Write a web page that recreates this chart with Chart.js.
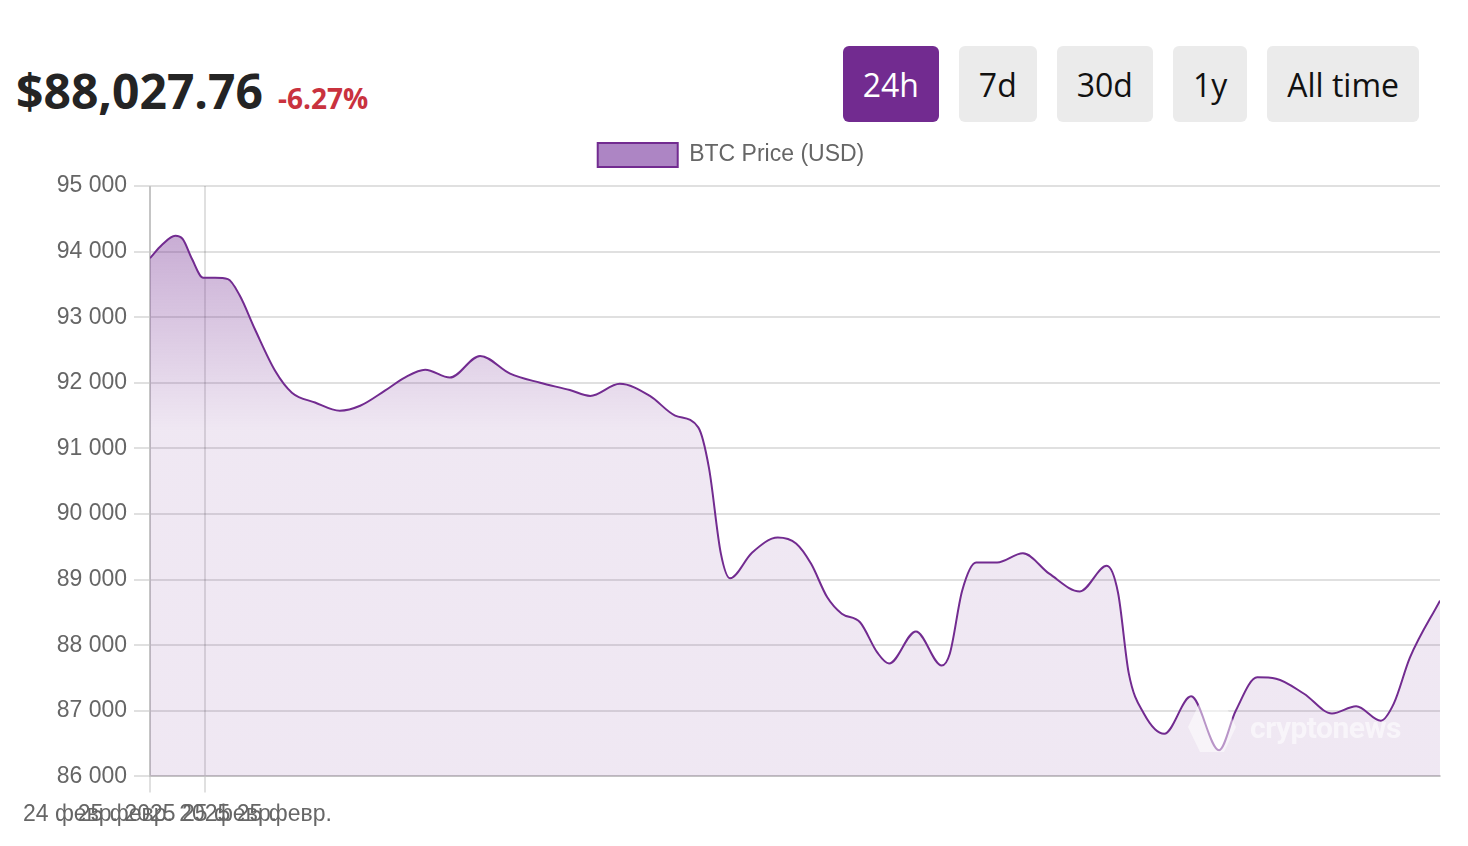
<!DOCTYPE html>
<html>
<head>
<meta charset="utf-8">
<script src="https://cdn.jsdelivr.net/npm/chart.js@4"></script>
<style>
  body { margin: 0; background: #fff; font-family: "Open Sans", sans-serif; }
  .price { position: absolute; left: 16px; top: 58px; font-weight: 700; font-size: 48px; color: #242424; }
  .change { font-size: 28px; color: #c9323e; margin-left: 15px; }
  .ranges { position: absolute; top: 46px; right: 49px; display: flex; gap: 20px; }
  .ranges button { border: 0; border-radius: 6px; background: #ebebeb; color: #111; font: 400 32px "Open Sans", sans-serif; height: 76px; padding: 0 20px; }
  .ranges button.active { background: #722b90; color: #fff; }
  #wrap { position: absolute; left: 0; top: 133px; width: 1468px; height: 713px; }
  .mark { position: absolute; left: 1186px; top: 700px; display: flex; align-items: center; gap: 12px; pointer-events: none; }
  .mark span { font: 700 30px Roboto, sans-serif; color: rgba(255,255,255,0.55); letter-spacing: -0.5px; }
</style>
</head>
<body>
<div class="price">$88,027.76<span class="change">-6.27%</span></div>
<div class="ranges">
  <button class="active">24h</button><button>7d</button><button>30d</button><button>1y</button><button>All time</button>
</div>
<div id="wrap"><canvas id="c"></canvas></div>
<div class="mark">
  <svg width="52" height="54" viewBox="0 0 52 54"><polygon points="14,2 38,2 50,27 38,52 14,52 2,27" fill="rgba(255,255,255,0.5)"/></svg>
  <span>cryptonews</span>
</div>
<script>
// hours since start of the 24h window
const hours = [0, 0.22, 0.47, 0.61, 0.78, 0.99, 1.21, 1.45, 1.67, 1.95, 2.33, 2.64, 3.07, 3.53, 3.91, 4.37,
  4.74, 5.12, 5.58, 6.14, 6.70, 7.26, 7.81, 8.19, 8.74, 9.30, 9.77, 10.20, 10.40, 10.62, 10.79, 11.20,
  11.68, 12.02, 12.30, 12.60, 12.87, 13.21, 13.53, 13.75, 14.25, 14.73, 14.88, 15.11, 15.37, 15.76, 16.24,
  16.73, 17.30, 17.80, 18.01, 18.21, 18.49, 18.87, 19.37, 19.89, 20.20, 20.60, 20.95, 21.47, 21.99, 22.44,
  22.90, 23.14, 23.44, 24.00];
const prices = [93900, 94100, 94240, 94190, 93890, 93600, 93600, 93580, 93330, 92820, 92180, 91850, 91700, 91575, 91650, 91880,
  92080, 92200, 92080, 92410, 92140, 92000, 91890, 91800, 91985, 91800, 91500, 91320, 90700, 89400, 89020, 89410,
  89640, 89550, 89240, 88730, 88480, 88350, 87890, 87720, 88210, 87690, 87870, 88830, 89260, 89260, 89400,
  89090, 88820, 89210, 88800, 87570, 86960, 86650, 87220, 86400, 87000, 87510, 87490, 87260, 86960, 87070,
  86850, 87110, 87810, 88680];
const tickHours = [0, 1.02];
const tickLabels = ['24 февр. 2025 25 февр.', '25 февр. 2025 25 февр.'];

const purple = '#722b90';
const font = { family: 'Liberation Sans, Arial, sans-serif', size: 23 };

function fillGradient(ctx) {
  const area = ctx.chart.chartArea;
  if (!area) return 'rgba(114,43,144,0.11)';
  const g = ctx.chart.ctx.createLinearGradient(0, area.top, 0, area.top + 245);
  g.addColorStop(0, 'rgba(114,43,144,0.46)');
  g.addColorStop(1, 'rgba(114,43,144,0.11)');
  return g;
}

// a bit more room between the legend and the plot
const legendGap = {
  id: 'legendGap',
  beforeInit(chart) {
    const fit = chart.legend.fit;
    chart.legend.fit = function () { fit.call(this); this.height += 9; };
  },
};

new Chart(document.getElementById('c'), {
  type: 'line',
  data: {
    datasets: [{
      label: 'BTC Price (USD)',
      data: hours.map((h, i) => ({ x: h, y: prices[i] })),
      borderColor: purple,
      borderWidth: 2,
      backgroundColor: fillGradient,
      fill: 'start',
      pointRadius: 0,
      cubicInterpolationMode: 'monotone',
    }],
  },
  options: {
    responsive: true,
    maintainAspectRatio: false,
    animation: false,
    layout: { padding: { left: 22, right: 28, bottom: 10 } },
    scales: {
      x: {
        type: 'linear',
        min: 0,
        max: 24,
        afterBuildTicks: axis => { axis.ticks = tickHours.map(v => ({ value: v })); },
        ticks: { callback: (v, i) => tickLabels[i], font, color: '#666', maxRotation: 0, padding: 8, autoSkip: false },
        grid: { color: 'rgba(0,0,0,0.12)', lineWidth: 2, tickLength: 16 },
        border: { color: 'rgba(0,0,0,0.12)', width: 2 },
      },
      y: {
        min: 86000,
        max: 95000,
        afterFit: axis => { axis.width = 128; },
        ticks: { stepSize: 1000, callback: v => v.toLocaleString('ru-RU'), font, color: '#666', padding: 7 },
        grid: { color: 'rgba(0,0,0,0.12)', lineWidth: 2, tickLength: 16 },
        border: { color: 'rgba(0,0,0,0.12)', width: 2 },
      },
    },
    plugins: {
      legend: {
        labels: {
          boxWidth: 80,
          boxHeight: 24,
          font,
          color: '#666',
          generateLabels: chart => Chart.defaults.plugins.legend.labels.generateLabels(chart)
            .map(l => ({ ...l, fillStyle: '#ad85c4', strokeStyle: purple, lineWidth: 2 })),
        },
      },
      tooltip: { enabled: false },
    },
  },
  plugins: [legendGap],
});
</script>
</body>
</html>
